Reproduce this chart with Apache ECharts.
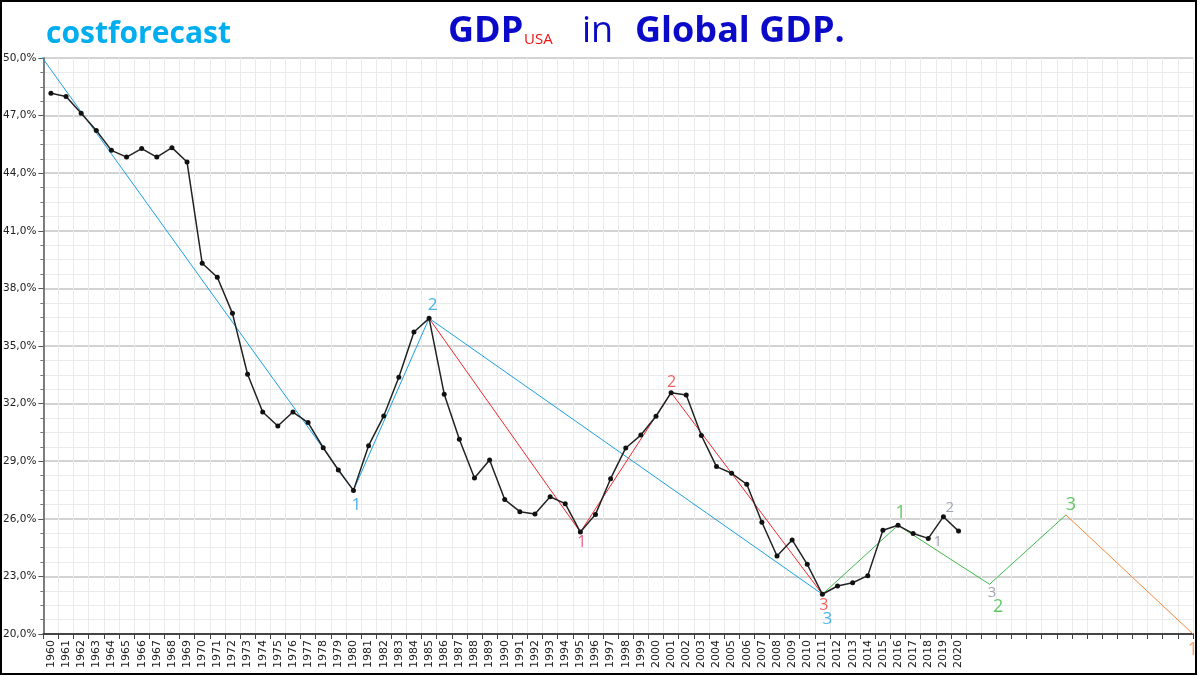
<!DOCTYPE html>
<html><head><meta charset="utf-8">
<script src="https://cdn.jsdelivr.net/npm/echarts/dist/echarts.min.js"></script>
<style>html,body{margin:0;padding:0;background:#fff}#c{width:1200px;height:676px}</style>
</head><body><div id="c"></div>
<script>
// ---- data ----
const years = ['1960','1961','1962','1963','1964','1965','1966','1967','1968','1969',
  '1970','1971','1972','1973','1974','1975','1976','1977','1978','1979',
  '1980','1981','1982','1983','1984','1985','1986','1987','1988','1989',
  '1990','1991','1992','1993','1994','1995','1996','1997','1998','1999',
  '2000','2001','2002','2003','2004','2005','2006','2007','2008','2009',
  '2010','2011','2012','2013','2014','2015','2016','2017','2018','2019',
  '2020','2021','2022','2023','2024','2025','2026','2027','2028','2029',
  '2030','2031','2032','2033','2034','2035'];
const lastLabelYear = 2020;
const usShare = [48.16, 47.99, 47.12, 46.22, 45.19, 44.84, 45.28, 44.84, 45.33, 44.58,
  39.31, 38.58, 36.70, 33.53, 31.56, 30.83, 31.56, 31.01, 29.70, 28.54,
  27.48, 29.81, 31.35, 33.37, 35.73, 36.44, 32.49, 30.14, 28.13, 29.06,
  27.00, 26.37, 26.25, 27.15, 26.79, 25.31, 26.23, 28.09, 29.69, 30.36,
  31.34, 32.57, 32.45, 30.34, 28.72, 28.37, 27.80, 25.82, 24.06, 24.90,
  23.63, 22.07, 22.50, 22.67, 23.04, 25.40, 25.66, 25.23, 24.98, 26.11,
  25.36];
const yTicks = {min: 20, max: 50, step: 3};

const blueX = [1956.7, 1980, 1985, 2011];
const blueY = [53.0, 27.48, 36.44, 22.07];
const blueText = ['', '1', '2', '3'];
const redX = [1985, 1995, 2001, 2011];
const redY = [36.44, 25.31, 32.57, 22.07];
const redText = ['', '1', '2', '3'];
const greenX = [2011, 2016, 2022.05, 2027.1];
const greenY = [22.07, 25.66, 22.59, 26.2];
const greenText = ['', '1', '2', '3'];
const orangeX = [2027.1, 2035.5];
const orangeY = [26.2, 20.0];
const orangeText = ['', '1'];
const grayX = [2018, 2019, 2022.05];
const grayY = [24.98, 26.11, 22.59];
const grayText = ['1', '2', '3'];

// ---- styling (label offsets relative to the anchor point, px) ----
const blueOff = [[0,0],[3,15],[3.5,-13],[5,25]];
const redOff = [[0,0],[1.5,10],[0.5,-10],[1.5,11]];
const greenOff = [[0,0],[2.5,-12.5],[8.5,22.5],[5,-10]];
const orangeOff = [[0,0],[0,16]];
const grayOff = [[9.5,3.5],[6.5,-8.5],[2.5,8]];

const C_BLUE = '#1BA1E2', C_RED = '#F0282D', C_GREEN = '#41B84A', C_ORANGE = '#F7873A', C_GRAY = '#8A8FA0';

function pairs(xs, ys) { return xs.map((x, i) => [x, ys[i]]); }
function trend(xs, ys, color, clip) {
  return {type: 'line', xAxisIndex: 1, yAxisIndex: 0, data: pairs(xs, ys), symbol: 'none',
    lineStyle: {color: color, width: 1}, clip: clip, silent: true, z: 2, animation: false};
}
function labels(xs, ys, texts, offs, color, size, colors) {
  const data = [];
  xs.forEach((x, i) => {
    if (!texts[i]) return;
    data.push({value: [x, ys[i]], label: {show: true, formatter: texts[i], position: 'inside',
      offset: offs[i], color: (colors && colors[i]) || color, fontSize: size,
      fontFamily: 'Open Sans', fontWeight: 'normal'}});
  });
  return {type: 'scatter', xAxisIndex: 1, yAxisIndex: 0, symbolSize: 0, data: data,
    silent: true, z: 5, clip: false, animation: false};
}

const chart = echarts.init(document.getElementById('c'), null, {renderer: 'canvas'});
chart.setOption({
  animation: false,
  backgroundColor: '#fff',
  grid: {left: 42, right: 7, top: 58, bottom: 42, containLabel: false},
  xAxis: [{
    type: 'category', data: years, boundaryGap: true,
    axisLine: {show: true, lineStyle: {color: '#444', width: 2}},
    axisTick: {show: true, interval: 0, length: 5, lineStyle: {color: '#444'}},
    axisLabel: {interval: 0, rotate: 90, margin: 6, fontSize: 11, color: '#1a1a1a',
      fontFamily: 'DejaVu Sans', formatter: v => (+v <= lastLabelYear ? v : '')},
    splitLine: {show: true, interval: 0, lineStyle: {color: '#EAEAEA', width: 1}}
  }, {
    type: 'value', min: 1959.5, max: 2035.5, show: false
  }],
  yAxis: {
    type: 'value', min: yTicks.min, max: yTicks.max, interval: yTicks.step,
    axisLine: {show: true, lineStyle: {color: '#555', width: 1.5}},
    axisTick: {show: true, length: 5, lineStyle: {color: '#555'}},
    minorTick: {show: true, splitNumber: 4, length: 3, lineStyle: {color: '#777'}},
    splitLine: {show: true, lineStyle: {color: '#C4C4C4', width: 1.5}},
    minorSplitLine: {show: true, lineStyle: {color: '#EAEAEA', width: 1}},
    axisLabel: {fontSize: 10.5, color: '#222', fontFamily: 'DejaVu Sans', margin: 7,
      formatter: v => v.toFixed(1).replace('.', ',') + '%'}
  },
  series: [
    trend(blueX, blueY, C_BLUE, false),
    trend(redX, redY, C_RED, true),
    trend(greenX, greenY, C_GREEN, true),
    trend(orangeX, orangeY, C_ORANGE, true),
    {type: 'line', xAxisIndex: 0, yAxisIndex: 0, data: usShare, symbol: 'circle', symbolSize: 5,
      itemStyle: {color: '#111'}, lineStyle: {color: '#222', width: 1.5}, z: 4, silent: true},
    labels(blueX, blueY, blueText, blueOff, C_BLUE, 17),
    labels(redX, redY, redText, redOff, C_RED, 16, ['', '#E33A62', '#F03A3A', '#F03A3A']),
    labels(greenX, greenY, greenText, greenOff, '#3DBA3D', 18),
    labels(orangeX, orangeY, orangeText, orangeOff, C_ORANGE, 18),
    labels(grayX, grayY, grayText, grayOff, C_GRAY, 15)
  ],
  graphic: [
    {type: 'text', x: 46, y: 34, style: {text: 'costforecast', fill: '#00AEEF', font: 'bold 30px "Open Sans"', verticalAlign: 'middle', align: 'left'}},
    {type: 'text', x: 448, y: 32, style: {text: 'GDP', fill: '#0A0AC8', font: 'bold 36px "Open Sans"', verticalAlign: 'middle', align: 'left'}},
    {type: 'text', x: 524, y: 40, style: {text: 'USA', fill: '#EE1111', font: '15px "Open Sans"', verticalAlign: 'middle', align: 'left'}},
    {type: 'text', x: 582, y: 32, style: {text: 'in', fill: '#0A0AC8', font: '36px "Open Sans"', verticalAlign: 'middle', align: 'left'}},
    {type: 'text', x: 635, y: 32, style: {text: 'Global GDP.', fill: '#0A0AC8', font: 'bold 36px "Open Sans"', verticalAlign: 'middle', align: 'left'}},
    {type: 'rect', shape: {x: 1, y: 1, width: 1195, height: 673}, style: {fill: 'none', stroke: '#000', lineWidth: 2}, z: 100, silent: true}
  ]
});
</script>
</body></html>
